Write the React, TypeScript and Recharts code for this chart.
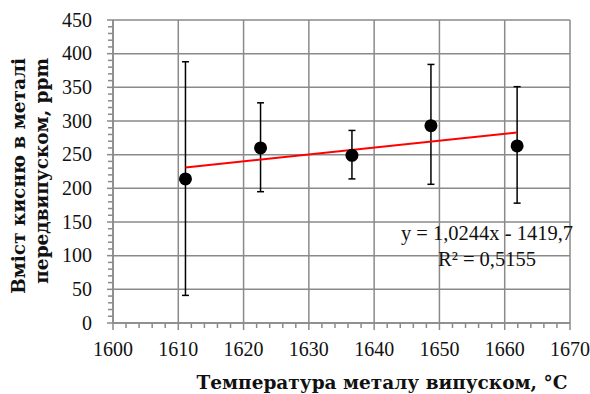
import {
  ComposedChart,
  Scatter,
  Line,
  XAxis,
  YAxis,
  CartesianGrid,
  ErrorBar,
} from "recharts";

// температура випуску, °C
const temps = [1611.1, 1622.6, 1636.6, 1648.7, 1661.9];
// вміст кисню, ppm (середнє, верхня та нижня межі)
const oxygen = [214, 260, 249, 293, 263];
const upper = [388, 327, 286, 384, 351];
const lower = [41, 195, 214, 206, 178];

// лінійний тренд (кінці лінії)
const trendX = [1611.1, 1661.9];
const trendY = [231, 283];

const xMajor = [1600, 1610, 1620, 1630, 1640, 1650, 1660, 1670];
const xMinor = [
  1600, 1602, 1604, 1606, 1608, 1610, 1612, 1614, 1616, 1618, 1620, 1622,
  1624, 1626, 1628, 1630, 1632, 1634, 1636, 1638, 1640, 1642, 1644, 1646,
  1648, 1650, 1652, 1654, 1656, 1658, 1660, 1662, 1664, 1666, 1668, 1670,
];
const yMajor = [0, 50, 100, 150, 200, 250, 300, 350, 400, 450];
const yMinor = [
  0, 10, 20, 30, 40, 50, 60, 70, 80, 90, 100, 110, 120, 130, 140, 150, 160,
  170, 180, 190, 200, 210, 220, 230, 240, 250, 260, 270, 280, 290, 300, 310,
  320, 330, 340, 350, 360, 370, 380, 390, 400, 410, 420, 430, 440, 450,
];

const points = temps.map((t, i) => ({
  x: t,
  y: oxygen[i],
  err: [oxygen[i] - lower[i], upper[i] - oxygen[i]],
}));
const trend = trendX.map((x, i) => ({ x, y: trendY[i] }));

const FONT = "'Liberation Serif', 'DejaVu Serif', serif";
const TITLE_FONT = "'DejaVu Serif', serif";
const GRID = "#8a8a8a";

function XTick({ x, y, payload }: any) {
  const major = xMajor.includes(payload.value);
  return (
    <g>
      <line x1={x} y1={y} x2={x} y2={y + (major ? 7 : 5)} stroke={GRID} strokeWidth={1.5} />
      {major && (
        <text x={x} y={y + 33} textAnchor="middle" style={{ fontFamily: FONT, fontSize: 20 }} fill="#111">
          {payload.value}
        </text>
      )}
    </g>
  );
}

function YTick({ x, y, payload }: any) {
  const major = payload.value % 50 === 0;
  return (
    <g>
      <line x1={x} y1={y} x2={x - (major ? 6 : 5)} y2={y} stroke={GRID} strokeWidth={1.5} />
      {major && (
        <text x={x - 21} y={y + 6.5} textAnchor="end" style={{ fontFamily: FONT, fontSize: 20 }} fill="#111">
          {payload.value}
        </text>
      )}
    </g>
  );
}

export default function App() {
  return (
    <div style={{ position: "absolute", left: 0, top: 0, width: 590, height: 394, background: "#fff" }}>
      <ComposedChart
        width={590}
        height={394}
        margin={{ top: 20, right: 20, bottom: 0, left: 0 }}
      >
        <CartesianGrid
          stroke={GRID}
          strokeWidth={1.5}
          verticalValues={xMajor}
          horizontalValues={yMajor}
        />
        <XAxis
          dataKey="x"
          type="number"
          domain={[1600, 1670]}
          ticks={xMinor}
          interval={0}
          allowDataOverflow
          height={71}
          tickSize={0}
          tickMargin={0}
          tickLine={false}
          axisLine={{ stroke: GRID, strokeWidth: 1.5 }}
          tick={<XTick />}
        />
        <YAxis
          type="number"
          domain={[0, 450]}
          ticks={yMinor}
          interval={0}
          allowDataOverflow
          width={113}
          tickSize={0}
          tickMargin={0}
          tickLine={false}
          axisLine={{ stroke: GRID, strokeWidth: 1.5 }}
          tick={<YTick />}
        />
        <Scatter
          data={points}
          dataKey="y"
          isAnimationActive={false}
          shape={(p: any) => <circle cx={p.cx} cy={p.cy} r={6.5} fill="#000" />}
        >
          <ErrorBar dataKey="err" direction="y" width={3.5} stroke="#000" strokeWidth={1.5} />
        </Scatter>
        <Line
          data={trend}
          dataKey="y"
          stroke="#ff0000"
          strokeWidth={2}
          dot={false}
          activeDot={false}
          isAnimationActive={false}
        />
      </ComposedChart>
      <svg
        width={590}
        height={394}
        style={{ position: "absolute", left: 0, top: 0, pointerEvents: "none" }}
      >
        <g style={{ fontFamily: TITLE_FONT, fontSize: 18.5, fontWeight: "bold" }} fill="#111">
          <text transform="translate(25,58) rotate(-90)" textAnchor="end">
            Вміст кисню в металі
          </text>
          <text transform="translate(48,58) rotate(-90)" textAnchor="end">
            передвипуском, ppm
          </text>
          <text x={382} y={389} textAnchor="middle">
            Температура металу випуском, °С
          </text>
        </g>
        <g style={{ fontFamily: FONT, fontSize: 20.5 }} fill="#111" textAnchor="middle">
          <text x={487} y={240}>y = 1,0244x - 1419,7</text>
          <text x={487} y={265.5}>R² = 0,5155</text>
        </g>
      </svg>
    </div>
  );
}
